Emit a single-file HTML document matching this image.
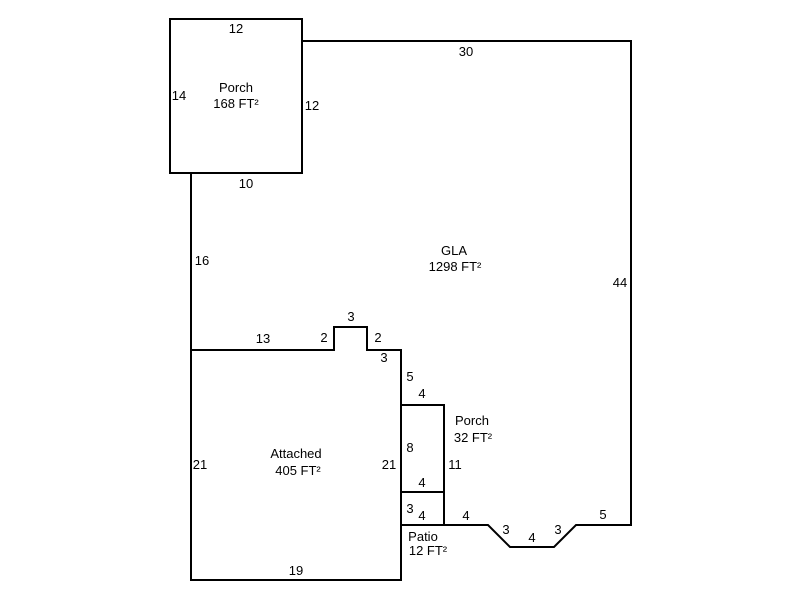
<!DOCTYPE html>
<html><head><meta charset="utf-8"><style>
html,body{margin:0;padding:0;background:#fff;}
svg{display:block;}
text{font-family:"Liberation Sans",Arial,sans-serif;font-size:13px;fill:#000;}
</style></head><body>
<svg width="800" height="600" viewBox="0 0 800 600" xmlns="http://www.w3.org/2000/svg">
<g fill="none" stroke="#000" stroke-width="2" stroke-linejoin="miter">
<rect x="170" y="19" width="132" height="154"/>
<polyline points="302,41 631,41 631,525 576,525 554,547 510,547 488,525 444,525"/>
<polyline points="191,173 191,580 401,580 401,350 367,350 367,327 334,327 334,350 191,350"/>
<rect x="401" y="405" width="43" height="87"/>
<rect x="401" y="492" width="43" height="33"/>
</g>
<g text-anchor="middle">
<text x="236" y="33">12</text>
<text x="179" y="100">14</text>
<text x="312" y="110">12</text>
<text x="246" y="188">10</text>
<text x="236" y="92">Porch</text>
<text x="236" y="108">168 FT²</text>
<text x="466" y="56">30</text>
<text x="620" y="287">44</text>
<text x="454" y="255">GLA</text>
<text x="455" y="271">1298 FT²</text>
<text x="202" y="265">16</text>
<text x="263" y="343">13</text>
<text x="324" y="342">2</text>
<text x="351" y="321">3</text>
<text x="378" y="342">2</text>
<text x="384" y="362">3</text>
<text x="410" y="381">5</text>
<text x="422" y="398">4</text>
<text x="472" y="425">Porch</text>
<text x="473" y="442">32 FT²</text>
<text x="410" y="452">8</text>
<text x="455" y="469">11</text>
<text x="422" y="487">4</text>
<text x="410" y="513">3</text>
<text x="422" y="520">4</text>
<text x="466" y="520">4</text>
<text x="506" y="534">3</text>
<text x="532" y="542">4</text>
<text x="558" y="534">3</text>
<text x="603" y="519">5</text>
<text x="423" y="541">Patio</text>
<text x="428" y="555">12 FT²</text>
<text x="200" y="469">21</text>
<text x="389" y="469">21</text>
<text x="296" y="458">Attached</text>
<text x="298" y="475">405 FT²</text>
<text x="296" y="575">19</text>
</g>
</svg>
</body></html>
